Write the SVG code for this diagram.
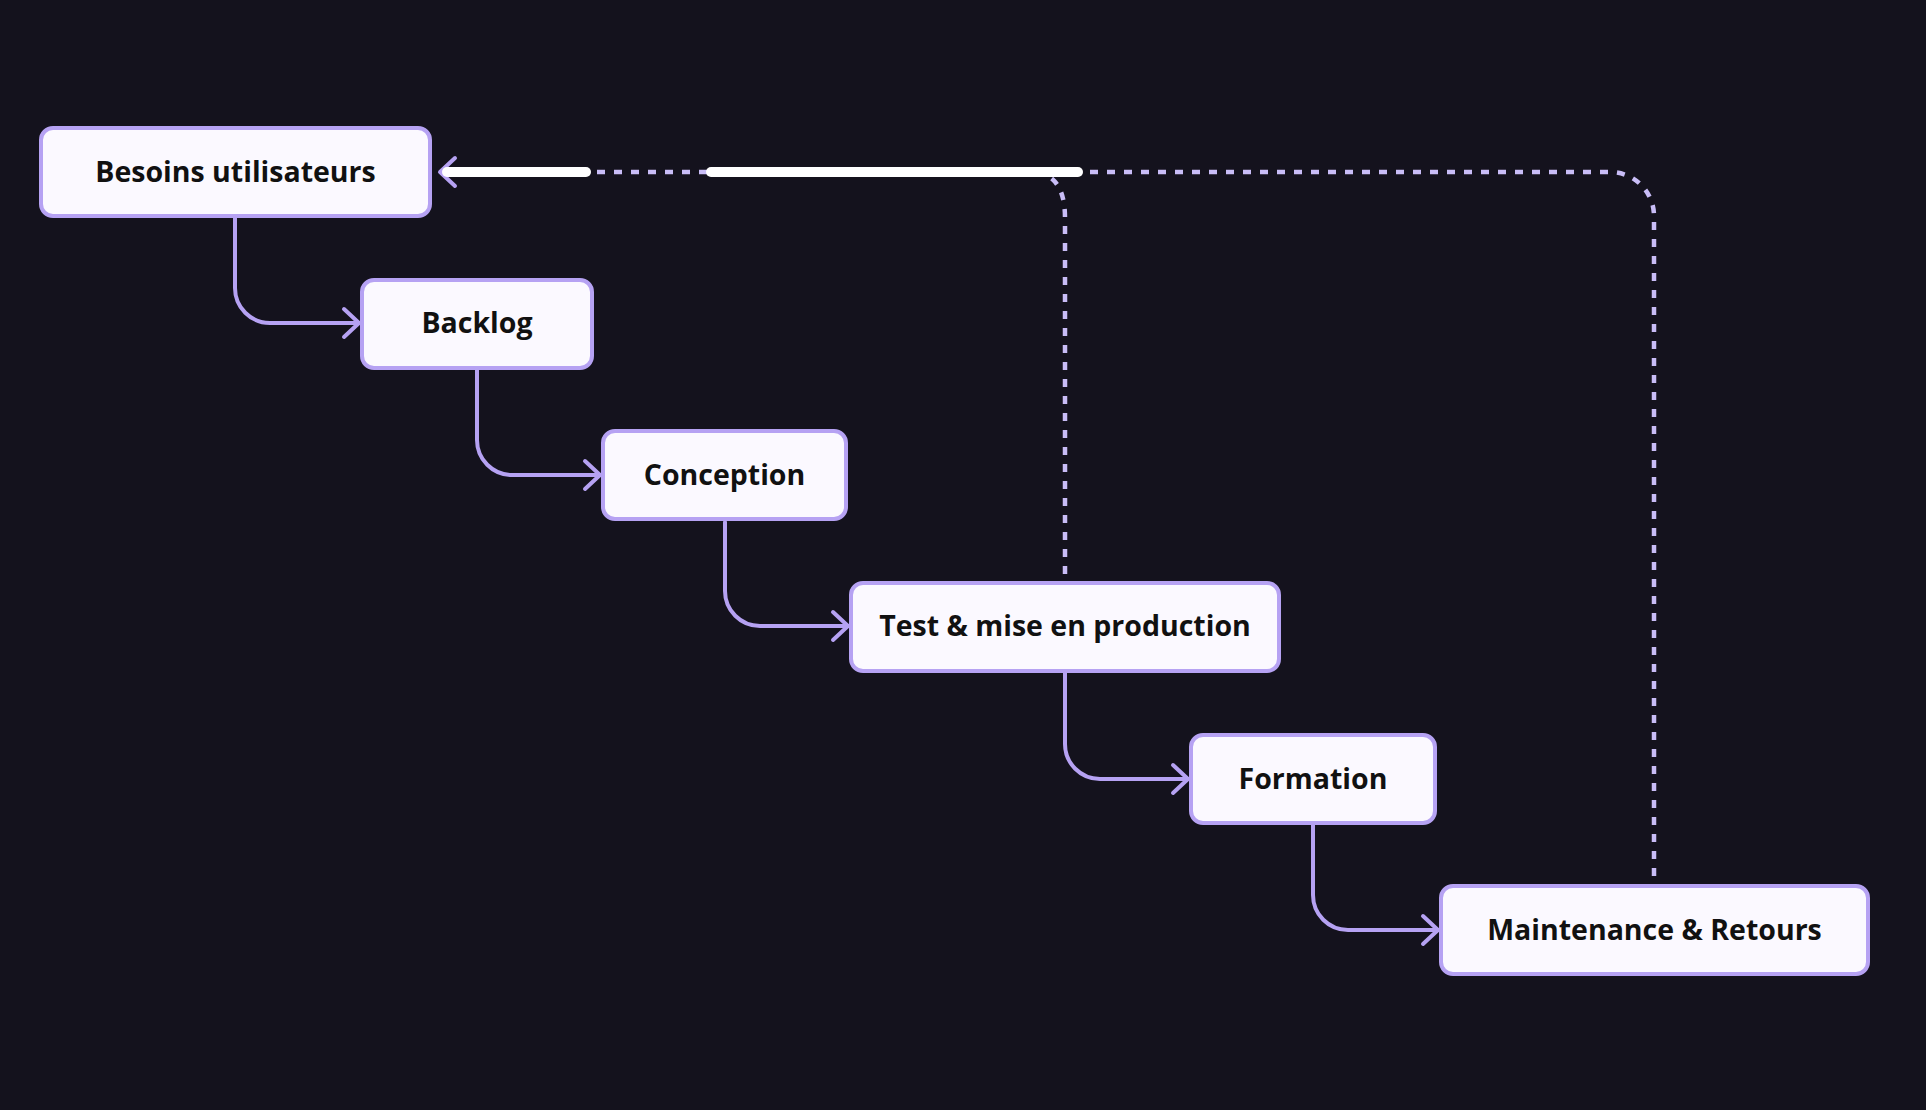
<svg xmlns="http://www.w3.org/2000/svg" width="1926" height="1110" viewBox="0 0 1926 1110">
  <style>
    .node rect { fill: #fbf9ff; stroke: #b6a2f3; stroke-width: 4; }
    .node text { font-family: "Open Sans", "Liberation Sans", sans-serif; font-weight: 700; font-size: 28.5px; fill: #111111; text-anchor: middle; dominant-baseline: central; }
    .flow { fill: none; stroke: #b6a2f3; stroke-width: 4; stroke-linecap: round; stroke-linejoin: round; }
    .dash { fill: none; stroke: #c9bdf7; stroke-width: 4.5; stroke-dasharray: 8 9; }
    .hl { fill: none; stroke: #ffffff; stroke-width: 10; stroke-linecap: round; }
  </style>
  <defs>
    <marker id="chev" markerUnits="userSpaceOnUse" markerWidth="40" markerHeight="40" viewBox="-20 -20 40 40" refX="0" refY="0" orient="auto">
      <path d="M -15 -14 L 0 0 L -15 14" fill="none" stroke="#b6a2f3" stroke-width="4" stroke-linecap="round" stroke-linejoin="round"/>
    </marker>
  </defs>
  <rect x="0" y="0" width="1926" height="1110" fill="#14121d"/>

  <g id="connectors">
    <path class="flow" d="M 235 218 L 235 288 A 35 35 0 0 0 270 323 L 359 323" marker-end="url(#chev)"/>
    <path class="flow" d="M 477 369 L 477 440 A 35 35 0 0 0 512 475 L 600 475" marker-end="url(#chev)"/>
    <path class="flow" d="M 725 522 L 725 591 A 35 35 0 0 0 760 626 L 848 626" marker-end="url(#chev)"/>
    <path class="flow" d="M 1065 673 L 1065 744 A 35 35 0 0 0 1100 779 L 1188 779" marker-end="url(#chev)"/>
    <path class="flow" d="M 1313 825 L 1313 895 A 35 35 0 0 0 1348 930 L 1438 930" marker-end="url(#chev)"/>
    <path class="dash" d="M 1065 574 L 1065 218 Q 1065 176 1036 172"/>
    <path class="dash" d="M 1654 876 L 1654 216 A 44 44 0 0 0 1610 172 L 440 172" marker-end="url(#chev)"/>
    <path class="hl" d="M 447 172 L 586 172"/>
    <path class="hl" d="M 711 172 L 1078 172"/>
  </g>

  <g id="node-besoins" class="node">
    <rect x="41" y="128" width="389" height="88" rx="12"/>
    <text x="235.5" y="171">Besoins utilisateurs</text>
  </g>
  <g id="node-backlog" class="node">
    <rect x="362" y="280" width="230" height="88" rx="12"/>
    <text x="477" y="322">Backlog</text>
  </g>
  <g id="node-conception" class="node">
    <rect x="603" y="431" width="243" height="88" rx="12"/>
    <text x="724.5" y="474">Conception</text>
  </g>
  <g id="node-test" class="node">
    <rect x="851" y="583" width="428" height="88" rx="12"/>
    <text x="1065" y="625">Test &amp; mise en production</text>
  </g>
  <g id="node-formation" class="node">
    <rect x="1191" y="735" width="244" height="88" rx="12"/>
    <text x="1313" y="778">Formation</text>
  </g>
  <g id="node-maintenance" class="node">
    <rect x="1441" y="886" width="427" height="88" rx="12"/>
    <text x="1654.5" y="929">Maintenance &amp; Retours</text>
  </g>
</svg>
